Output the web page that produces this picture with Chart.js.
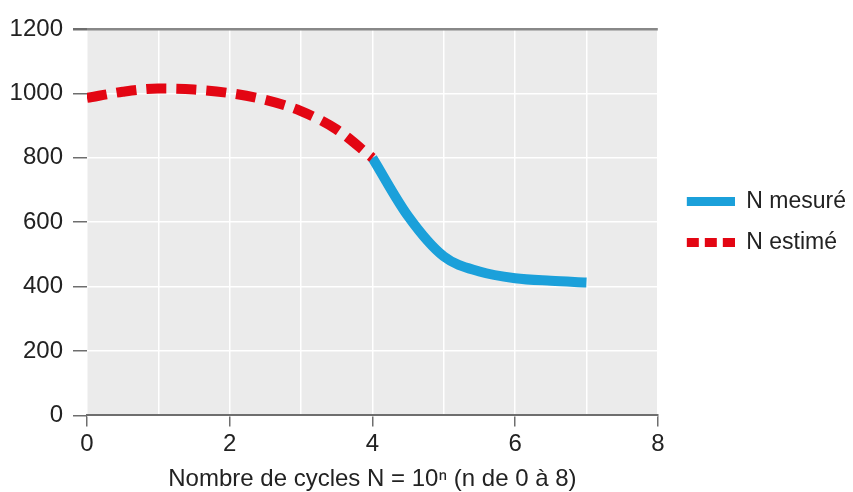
<!DOCTYPE html>
<html>
<head>
<meta charset="utf-8">
<script src="https://cdn.jsdelivr.net/npm/chart.js@4/dist/chart.umd.min.js"></script>
<style>
  html, body { margin: 0; padding: 0; background: #fff; }
  #wrap { width: 853px; height: 492px; }
</style>
</head>
<body>
<div id="wrap"><canvas id="chart" width="853" height="492"></canvas></div>
<script>
// n values (N = 10^n) and read-off values
const nValues = [0, 0.5, 1, 1.5, 2, 2.5, 3, 3.5, 4, 4.5, 5, 5.5, 6, 6.5, 7];
const measured = [null, null, null, null, null, null, null, null, 800, 619, 494, 447, 426, 418, 413];
const estimated = [986, 1005, 1015, 1012, 1001, 980, 945, 888, 800, null, null, null, null, null, null];
const xTicks = [0, 2, 4, 6, 8];
const yTicks = [0, 200, 400, 600, 800, 1000, 1200];

const BLUE = '#1ba0da';
const RED = '#e30613';
const TEXT = '#222222';
const AXIS = '#6e6e6e';
const FONT = "'Liberation Sans', Arial, sans-serif";

function toPoints(values) {
  return nValues.map((n, i) => ({ x: n, y: values[i] })).filter(p => p.y !== null);
}

// legend glyphs: a solid and a dashed stroke, with some blank space on the left
const GLYPH_GAP = 11;
function legendGlyph(color, dash) {
  const c = document.createElement('canvas');
  c.width = 48 + GLYPH_GAP;
  c.height = 9;
  const g = c.getContext('2d');
  g.strokeStyle = color;
  g.lineWidth = 9;
  g.setLineDash(dash);
  g.beginPath();
  g.moveTo(GLYPH_GAP, 4.5);
  g.lineTo(GLYPH_GAP + 48, 4.5);
  g.stroke();
  return c;
}

const plotBackground = {
  id: 'plotBackground',
  beforeDraw(chart) {
    const { ctx, chartArea } = chart;
    ctx.save();
    ctx.fillStyle = '#ebebeb';
    ctx.fillRect(chartArea.left, chartArea.top, chartArea.right - chartArea.left, chartArea.bottom - chartArea.top);
    ctx.restore();
  }
};

new Chart(document.getElementById('chart'), {
  type: 'line',
  data: {
    datasets: [
      {
        label: 'N mesuré',
        data: toPoints(measured),
        borderColor: BLUE,
        backgroundColor: BLUE,
        borderWidth: 10,
        borderCapStyle: 'butt',
        pointRadius: 0,
        cubicInterpolationMode: 'monotone',
        fill: false,
        order: 1,
      },
      {
        label: 'N estimé',
        data: toPoints(estimated),
        borderColor: RED,
        backgroundColor: RED,
        borderWidth: 10,
        borderDash: [20, 10],
        borderCapStyle: 'butt',
        pointRadius: 0,
        cubicInterpolationMode: 'monotone',
        fill: false,
        order: 0,
      },
    ],
  },
  options: {
    responsive: false,
    animation: false,
    layout: { padding: { top: 29, right: -3, left: 6, bottom: -2 } },
    scales: {
      x: {
        type: 'linear',
        min: 0,
        max: 8,
        ticks: {
          stepSize: 1,
          color: TEXT,
          font: { family: FONT, size: 24 },
          padding: 4,
          callback: v => (xTicks.includes(v) ? String(v) : ''),
        },
        grid: {
          color: '#ffffff',
          lineWidth: 1.5,
          tickLength: 11,
          tickColor: ctx => (xTicks.includes(ctx.tick && ctx.tick.value) ? AXIS : 'rgba(0,0,0,0)'),
          tickWidth: 1.5,
        },
        border: { display: true, color: AXIS, width: 2 },
        title: {
          display: true,
          text: 'Nombre de cycles N = 10ⁿ (n de 0 à 8)',
          color: TEXT,
          font: { family: FONT, size: 24 },
          padding: { top: 2, bottom: 0 },
        },
      },
      y: {
        min: 0,
        max: 1200,
        afterBuildTicks: axis => { axis.ticks = yTicks.map(v => ({ value: v })); },
        afterFit: axis => { axis.width = 81; },
        ticks: {
          color: TEXT,
          font: { family: FONT, size: 24 },
          padding: 10,
          callback: v => String(v),
        },
        grid: {
          color: ctx => (ctx.tick && ctx.tick.value === 1200 ? '#888888' : '#ffffff'),
          lineWidth: ctx => (ctx.tick && ctx.tick.value === 1200 ? 2.5 : 1.5),
          tickLength: 14,
          tickColor: AXIS,
          tickWidth: ctx => (ctx.tick && ctx.tick.value === 1200 ? 2.5 : 1.5),
        },
        border: { display: false },
      },
    },
    plugins: {
      legend: {
        position: 'right',
        align: 'center',
        fullSize: false,
        labels: {
          usePointStyle: true,
          pointStyleWidth: 48 + GLYPH_GAP,
          color: TEXT,
          font: { family: FONT, size: 23 },
          padding: 18,
          sort: (a, b) => a.datasetIndex - b.datasetIndex,
          generateLabels: chart => Chart.defaults.plugins.legend.labels.generateLabels(chart).map(l => ({
            ...l,
            pointStyle: l.datasetIndex === 0 ? legendGlyph(BLUE, []) : legendGlyph(RED, [12, 6]),
          })),
        },
      },
      tooltip: { enabled: false },
    },
  },
  plugins: [plotBackground],
});
</script>
</body>
</html>
